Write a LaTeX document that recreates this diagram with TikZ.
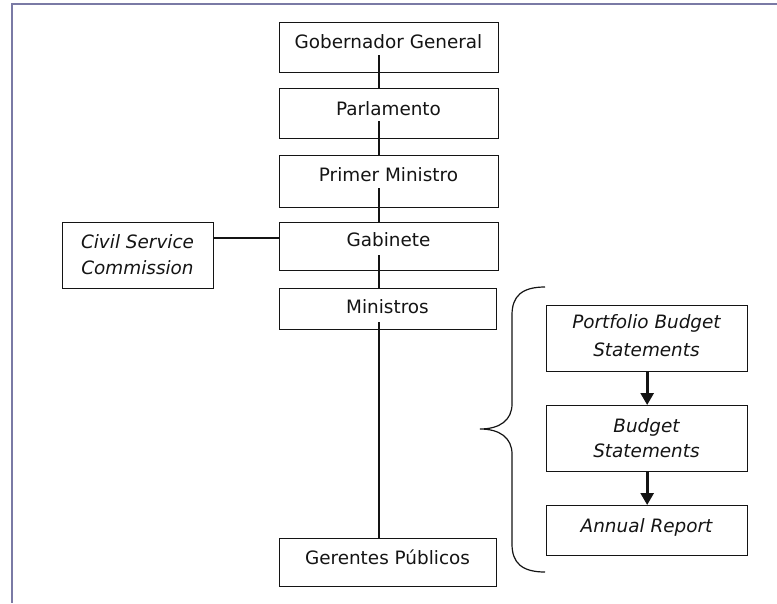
\documentclass[tikz,border=0pt]{standalone}
\usepackage{fontspec}
\setmainfont{DejaVu Sans}
\usetikzlibrary{arrows.meta}
\definecolor{framecol}{RGB}{122,122,165}
\definecolor{inkcol}{RGB}{20,20,20}
\begin{document}
\begin{tikzpicture}[x=0.75pt,y=-0.75pt,
  box/.style={draw=inkcol, line width=1pt, inner sep=0pt, anchor=north west},
  lbl/.style={anchor=base, inner sep=0pt, text=inkcol, font=\fontsize{13.8pt}{16pt}\selectfont},
  itl/.style={lbl, font=\fontsize{13.8pt}{16pt}\selectfont\itshape},
  link/.style={draw=inkcol, line width=0.8pt},
  flow/.style={draw=inkcol, line width=2pt, -{Triangle[width=9.75pt,length=9pt]}}]
\useasboundingbox (0,0) rectangle (777,603);

% page frame (top and left rules)
\draw[framecol, line width=1.2pt] (11,4) -- (777,4);
\draw[framecol, line width=1.2pt] (12,4) -- (12,603);

% main chain of boxes
\node[box, minimum width=219*0.75pt, minimum height=50*0.75pt] (gg)   at (279,22)  {};
\node[box, minimum width=219*0.75pt, minimum height=50*0.75pt] (parl) at (279,88)  {};
\node[box, minimum width=219*0.75pt, minimum height=52*0.75pt] (pm)   at (279,155) {};
\node[box, minimum width=219*0.75pt, minimum height=48*0.75pt] (gab)  at (279,222) {};
\node[box, minimum width=217*0.75pt, minimum height=41*0.75pt] (min)  at (279,288) {};
\node[box, minimum width=217*0.75pt, minimum height=48*0.75pt] (ger)  at (279,538) {};

\node[lbl] (gg-t)   at (388.5,48.3) {Gobernador General};
\node[lbl] (parl-t) at (388.5,115)  {Parlamento};
\node[lbl] (pm-t)   at (388.5,181.7){Primer Ministro};
\node[lbl] (gab-t)  at (388.5,246.7){Gabinete};
\node[lbl] (min-t)  at (387.5,313)  {Ministros};
\node[lbl] (ger-t)  at (387.5,564)  {Gerentes Públicos};

% side box
\node[box, minimum width=151*0.75pt, minimum height=66*0.75pt] (csc) at (62,222) {};
\node[itl] (csc-t1) at (137.5,248) {Civil Service};
\node[itl] (csc-t2) at (137.5,274) {Commission};

% documents column
\node[box, minimum width=201*0.75pt, minimum height=66*0.75pt] (pbs) at (546,305) {};
\node[box, minimum width=201*0.75pt, minimum height=66*0.75pt] (bs)  at (546,405) {};
\node[box, minimum width=201*0.75pt, minimum height=50*0.75pt] (ar)  at (546,505) {};
\node[itl] (pbs-t1) at (646.5,328) {Portfolio Budget};
\node[itl] (pbs-t2) at (646.5,356) {Statements};
\node[itl] (bs-t1)  at (646.5,432) {Budget};
\node[itl] (bs-t2)  at (646.5,457) {Statements};
\node[itl] (ar-t)   at (646.5,532) {Annual Report};

% connector start points inside the boxes
\coordinate (gg-o)   at (379,55);
\coordinate (parl-o) at (379,121);
\coordinate (pm-o)   at (379,188);
\coordinate (gab-o)  at (379,255);
\coordinate (min-o)  at (379,322);
\coordinate (tie)    at (0,238);

\draw[link] (gg-o)   -- (gg-o |- parl.north);
\draw[link] (parl-o) -- (parl-o |- pm.north);
\draw[link] (pm-o)   -- (pm-o |- gab.north);
\draw[link] (gab-o)  -- (gab-o |- min.north);
\draw[link] (min-o)  -- (min-o |- ger.north);
\draw[link] (csc.east |- tie) -- (gab.west |- tie);

\draw[flow] (pbs.south) -- (bs.north);
\draw[flow] (bs.south) -- (ar.north);

% brace grouping the documents
\draw[inkcol, line width=0.9pt]
  (545,287) .. controls (522,287) and (512,296) .. (512,315)
  -- (512,404) .. controls (512,420) and (500,429) .. (480,429)
  .. controls (500,429) and (512,438) .. (512,454)
  -- (512,544) .. controls (512,563) and (522,572) .. (545,572);
\end{tikzpicture}
\end{document}
